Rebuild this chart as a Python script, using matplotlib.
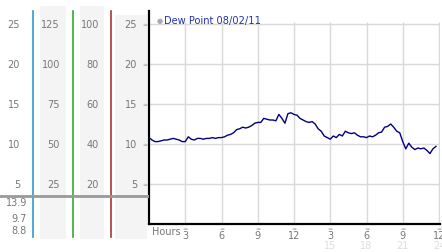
import matplotlib
matplotlib.use("Agg")
import matplotlib.pyplot as plt
import matplotlib.transforms as mtransforms
import numpy as np

# dew point readings, one every 15 minutes from midnight
dew_point = [
    10.8, 10.5, 10.3, 10.3, 10.4, 10.5, 10.5, 10.6, 10.7, 10.6, 10.5, 10.3,
    10.3, 10.9, 10.6, 10.5, 10.7, 10.7, 10.6, 10.7, 10.7, 10.8, 10.7, 10.8,
    10.8, 10.9, 11.1, 11.2, 11.4, 11.8, 11.9, 12.1, 12.0, 12.1, 12.3, 12.6,
    12.7, 12.7, 13.2, 13.1, 13.0, 13.0, 12.9, 13.7, 13.2, 12.6, 13.8, 13.9,
    13.7, 13.6, 13.2, 13.0, 12.8, 12.7, 12.8, 12.5, 11.9, 11.6, 11.0, 10.8,
    10.6, 11.0, 10.8, 11.2, 11.0, 11.6, 11.4, 11.3, 11.4, 11.1, 10.9, 10.9,
    10.8, 11.0, 10.9, 11.1, 11.4, 11.5, 12.1, 12.2, 12.5, 12.1, 11.6, 11.4,
    10.3, 9.4, 10.1, 9.6, 9.3, 9.5, 9.4, 9.5, 9.2, 8.8, 9.4, 9.7,
]
hours = np.arange(len(dew_point)) * 0.25

legend_label = "Dew Point 08/02/11"
hour_ticks = [3, 6, 9, 12, 15, 18, 21, 24]
hour_labels = ["3", "6", "9", "12", "3", "6", "9", "12"]
late_ticks = [15, 18, 21, 24]
late_labels = ["15", "18", "21", "24"]

y_ticks = [25, 20, 15, 10, 5]
col2_labels = [125, 100, 75, 50, 25]
col3_labels = [100, 80, 60, 40, 20]
stats = ["13.9", "9.7", "8.8"]

W, H = 442, 253
fig = plt.figure(figsize=(W / 100, H / 100), dpi=100)
fig.patch.set_facecolor("white")

# main plot area in pixel terms
left, right, top, bottom = 149, 440, 12, 225
ax = fig.add_axes([left / W, (H - bottom) / H, (right - left) / W, (bottom - top) / H])
ymax = (bottom - top) / 8.0
ax.set_xlim(0, 24 * (right - left) / 290)
ax.set_ylim(0, ymax)
ax.set_facecolor("white")

grid_c = "#d9d9d9"
for v in y_ticks:
    ax.axhline(v, color=grid_c, lw=1, zorder=1)
ax.vlines(hour_ticks, 0, 25.2, color=grid_c, lw=1, zorder=1)

ax.plot(hours, dew_point, color="#000080", lw=1.0, zorder=3)

for s in ["top", "right"]:
    ax.spines[s].set_visible(False)
ax.spines["left"].set_linewidth(1.6)
ax.spines["bottom"].set_linewidth(1.6)
ax.set_xticks([])
ax.set_yticks([])

tc = "#777777"
fs = 7
ah = bottom - top
bx = mtransforms.blended_transform_factory(ax.transData, ax.transAxes)
for t, lab in zip(hour_ticks, hour_labels):
    ax.text(t, -4.0 / ah, "≈", transform=bx, ha="center", va="center", fontsize=4.5,
            color="#999999", clip_on=False)
    ax.text(t, -11.0 / ah, lab, transform=bx, ha="center", va="center", fontsize=fs,
            color=tc, clip_on=False)
for t, lab in zip(late_ticks, late_labels):
    ax.text(t, -21.5 / ah, lab, transform=bx, ha="center", va="center", fontsize=fs,
            color="#dddddd", clip_on=False)
ax.text(0.012, -7.5 / ah, "Hours", transform=ax.transAxes, ha="left", va="center",
        fontsize=fs, color=tc)

# legend
fig.text(160 / W, 1 - 21 / H, "●", fontsize=5, color="#aaaaaa", ha="center", va="center")
fig.text(164 / W, 1 - 21 / H, legend_label, fontsize=7.1, color="#2233aa", ha="left", va="center")

# side panel with the other scales, same vertical units as the main plot
side = fig.add_axes([0, 0, left / W, 1])
side.set_xlim(0, left)
side.set_ylim(-(H - bottom) / 8.0, bottom / 8.0)
side.axis("off")

band_c = "#f4f4f4"
for x0, x1, ytop in [(40, 66, 7), (80, 104, 7), (115, 147, 16)]:
    side.fill_between([x0, x1], (bottom - 240) / 8.0, (bottom - ytop) / 8.0, color=band_c, lw=0, zorder=0)

for x, c in [(33, "#3399cc"), (72.5, "#33aa33"), (111, "#aa3333")]:
    side.plot([x, x], [(bottom - 238) / 8.0, ymax], color=c, lw=1.2, zorder=2)

side.plot([0, left], [3.5, 3.5], color="#999999", lw=2, zorder=3)

for v, a, b in zip(y_ticks, col2_labels, col3_labels):
    side.text(20, v, str(v), ha="right", va="center", fontsize=fs, color=tc)
    side.text(60, a / 5, str(a), ha="right", va="center", fontsize=fs, color=tc)
    side.text(99, b / 4, str(b), ha="right", va="center", fontsize=fs, color=tc)
    side.text(137, v, str(v), ha="right", va="center", fontsize=fs, color=tc)
    side.text(145, v, "≈", ha="center", va="center", fontsize=4.5, color="#999999")

for ypos, s in zip([2.75, 0.75, -0.75], stats):
    side.text(27, ypos, s, ha="right", va="center", fontsize=fs, color=tc)

fig.savefig("out.png", dpi=100)
